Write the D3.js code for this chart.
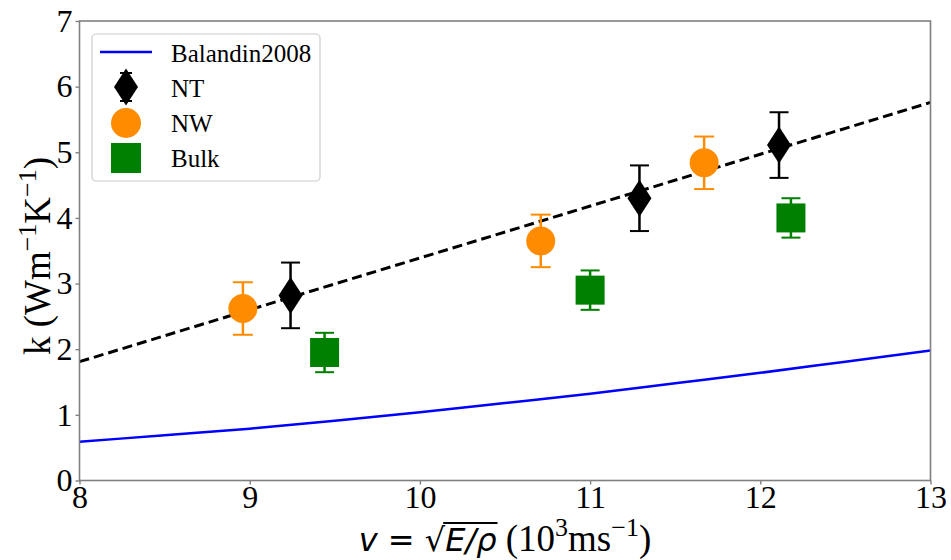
<!DOCTYPE html>
<html>
<head>
<meta charset="utf-8">
<script src="https://cdn.jsdelivr.net/npm/d3@7"></script>
<style>
  html, body { margin: 0; padding: 0; background: #fff; }
  svg { display: block; }
</style>
</head>
<body>
<svg id="chart" width="951" height="560"></svg>
<script>
// Thermal conductivity vs. sound velocity

// Balandin2008 model curve (sampled)
const balandinV = [8, 8.5, 9, 9.5, 10, 10.5, 11, 11.5, 12, 12.5, 13];
const balandinK = [0.59, 0.69, 0.79, 0.91, 1.04, 1.18, 1.32, 1.48, 1.64, 1.81, 1.98];

// Linear trend (dashed)
const trendV = [8, 13];
const trendK = [1.81, 5.76];

// NT (nanotubes)
const ntV = [9.24, 11.29, 12.11];
const ntK = [2.82, 4.30, 5.11];
const ntErr = [0.5, 0.5, 0.5];

// NW (nanowires)
const nwV = [8.96, 10.71, 11.67];
const nwK = [2.62, 3.65, 4.84];
const nwErr = [0.4, 0.4, 0.4];

// Bulk
const bulkV = [9.44, 11.00, 12.18];
const bulkK = [1.95, 2.90, 4.00];
const bulkErr = [0.3, 0.3, 0.3];

const xTicks = [8, 9, 10, 11, 12, 13];
const yTicks = [0, 1, 2, 3, 4, 5, 6, 7];

const serif = "'Liberation Serif', 'Times New Roman', Times, serif";
const sans = "'DejaVu Sans', sans-serif";

const svg = d3.select("#chart");
const x = d3.scaleLinear().domain([8, 13]).range([79.5, 930.5]);
const y = d3.scaleLinear().domain([0, 7]).range([480.5, 21]);

const plot = svg.append("g");
plot.append("defs").append("clipPath").attr("id", "clip")
  .append("rect").attr("x", 79.5).attr("y", 21).attr("width", 851).attr("height", 459.5);

const lineGen = d3.line().x(d => x(d[0])).y(d => y(d[1]));

// Balandin2008 curve
plot.append("path")
  .datum(d3.zip(balandinV, balandinK))
  .attr("clip-path", "url(#clip)")
  .attr("d", d3.line().curve(d3.curveMonotoneX).x(d => x(d[0])).y(d => y(d[1])))
  .attr("fill", "none").attr("stroke", "#0000ff").attr("stroke-width", 2.5);

// dashed trend
plot.append("path")
  .datum(d3.zip(trendV, trendK))
  .attr("clip-path", "url(#clip)")
  .attr("d", lineGen)
  .attr("fill", "none").attr("stroke", "#000").attr("stroke-width", 3)
  .attr("stroke-dasharray", "10,5");

// error bars + markers
function errorBars(g, vs, ks, es, color, capW) {
  const data = d3.zip(vs, ks, es);
  g.selectAll(null).data(data).enter().append("line")
    .attr("x1", d => x(d[0])).attr("x2", d => x(d[0]))
    .attr("y1", d => y(d[1] - d[2])).attr("y2", d => y(d[1] + d[2]))
    .attr("stroke", color).attr("stroke-width", 2.5);
  [-1, 1].forEach(s => {
    g.selectAll(null).data(data).enter().append("line")
      .attr("x1", d => x(d[0]) - capW / 2).attr("x2", d => x(d[0]) + capW / 2)
      .attr("y1", d => y(d[1] + s * d[2])).attr("y2", d => y(d[1] + s * d[2]))
      .attr("stroke", color).attr("stroke-width", 2);
  });
}

const diamondPath = (cx, cy) => `M${cx},${cy - 18.5}L${cx + 12},${cy}L${cx},${cy + 18.5}L${cx - 12},${cy}Z`;

// NW
const gNW = plot.append("g");
errorBars(gNW, nwV, nwK, nwErr, "#ff8c00", 20);
gNW.selectAll(null).data(d3.zip(nwV, nwK)).enter().append("circle")
  .attr("cx", d => x(d[0])).attr("cy", d => y(d[1])).attr("r", 14.5)
  .attr("fill", "#ff8c00");

// NT
const gNT = plot.append("g");
errorBars(gNT, ntV, ntK, ntErr, "#000", 19);
gNT.selectAll(null).data(d3.zip(ntV, ntK)).enter().append("path")
  .attr("d", d => diamondPath(x(d[0]), y(d[1])))
  .attr("fill", "#000");

// Bulk
const gB = plot.append("g");
errorBars(gB, bulkV, bulkK, bulkErr, "#008000", 19);
gB.selectAll(null).data(d3.zip(bulkV, bulkK)).enter().append("rect")
  .attr("x", d => x(d[0]) - 14.5).attr("y", d => y(d[1]) - 14.5)
  .attr("width", 29).attr("height", 29)
  .attr("fill", "#008000");

// frame
const spine = "#808080";
svg.append("rect").attr("x", 79.5).attr("y", 21).attr("width", 851).attr("height", 459.5)
  .attr("fill", "none").attr("stroke", spine).attr("stroke-width", 1.6);

// axes
const xAxis = svg.append("g").attr("transform", "translate(0,480.5)")
  .call(d3.axisBottom(x).tickValues(xTicks).tickFormat(d3.format("d")).tickSizeOuter(0).tickSize(4).tickPadding(1));
const yAxis = svg.append("g").attr("transform", "translate(79.5,0)")
  .call(d3.axisLeft(y).tickValues(yTicks).tickFormat(d3.format("d")).tickSizeOuter(0).tickSize(4).tickPadding(3));
[xAxis, yAxis].forEach(a => {
  a.select(".domain").remove();
  a.selectAll(".tick line").attr("stroke", spine).attr("stroke-width", 1.4);
  a.selectAll(".tick text").attr("fill", "#000")
    .style("font-family", serif).style("font-size", "32px");
});

// y label
const yl = svg.append("text")
  .attr("transform", "translate(50,256) rotate(-90)")
  .attr("text-anchor", "middle")
  .style("font-family", serif).style("font-size", "37px").attr("fill", "#000");
yl.append("tspan").text("k (Wm");
yl.append("tspan").attr("dy", -14).style("font-size", "26px").text("\u22121");
yl.append("tspan").attr("dy", 14).text("K");
yl.append("tspan").attr("dy", -14).style("font-size", "26px").text("\u22121");
yl.append("tspan").attr("dy", 14).text(")");

// x label: pieces laid out left to right
const xl = svg.append("g");
const baseY = 551;
const pieces = [
  { t: "v", f: sans, s: 32, it: true, dy: 0 },
  { t: " = ", f: sans, s: 32, it: false, dy: 0 },
  { t: "\u221a", f: sans, s: 32, it: false, dy: 0 },
  { t: "E/\u03c1", f: sans, s: 32, it: true, dy: 0, over: true },
  { t: " (10", f: serif, s: 37, it: false, dy: 0 },
  { t: "3", f: serif, s: 26, it: false, dy: -15 },
  { t: "ms", f: serif, s: 37, it: false, dy: 0 },
  { t: "\u22121", f: serif, s: 26, it: false, dy: -15 },
  { t: ")", f: serif, s: 37, it: false, dy: 0 }
];
let cursor = 0;
const placed = [];
pieces.forEach(p => {
  const el = xl.append("text").attr("x", cursor).attr("y", baseY + p.dy)
    .style("font-family", p.f).style("font-size", p.s + "px")
    .style("font-style", p.it ? "italic" : "normal")
    .style("white-space", "pre").attr("xml:space", "preserve")
    .attr("fill", "#000").text(p.t);
  const w = el.node().getComputedTextLength();
  placed.push({ el, x0: cursor, w, p });
  cursor += w;
});
placed.filter(d => d.p.over).forEach(d => {
  xl.append("line").attr("x1", d.x0 - 2).attr("x2", d.x0 + d.w + 1)
    .attr("y1", baseY - 28).attr("y2", baseY - 28)
    .attr("stroke", "#000").attr("stroke-width", 2);
});
xl.attr("transform", `translate(${505 - cursor / 2},0)`);

// legend
const lg = svg.append("g");
lg.append("rect").attr("x", 92).attr("y", 34).attr("width", 228).attr("height", 147)
  .attr("rx", 4).attr("fill", "#fff").attr("fill-opacity", 0.8)
  .attr("stroke", "#cccccc").attr("stroke-width", 1.2);
const labels = ["Balandin2008", "NT", "NW", "Bulk"];
const rowY = [52, 87, 122, 157];
lg.append("line").attr("x1", 100).attr("x2", 152).attr("y1", rowY[0]).attr("y2", rowY[0])
  .attr("stroke", "#0000ff").attr("stroke-width", 2.5);
// NT legend entry
lg.append("line").attr("x1", 126).attr("x2", 126).attr("y1", rowY[1] - 14).attr("y2", rowY[1] + 14)
  .attr("stroke", "#000").attr("stroke-width", 2.5);
[-14, 14].forEach(o => lg.append("line").attr("x1", 120).attr("x2", 132)
  .attr("y1", rowY[1] + o).attr("y2", rowY[1] + o).attr("stroke", "#000").attr("stroke-width", 2));
lg.append("path").attr("d", diamondPath(126, rowY[1])).attr("fill", "#000");
lg.append("circle").attr("cx", 126).attr("cy", rowY[2] + 1).attr("r", 15).attr("fill", "#ff8c00");
lg.append("rect").attr("x", 111).attr("y", rowY[3] - 14).attr("width", 30).attr("height", 30).attr("fill", "#008000");
lg.selectAll(null).data(labels).enter().append("text")
  .attr("x", 171).attr("y", (d, i) => rowY[i] + 9.5)
  .style("font-family", serif).style("font-size", "25px").attr("fill", "#000")
  .text(d => d);
</script>
</body>
</html>
